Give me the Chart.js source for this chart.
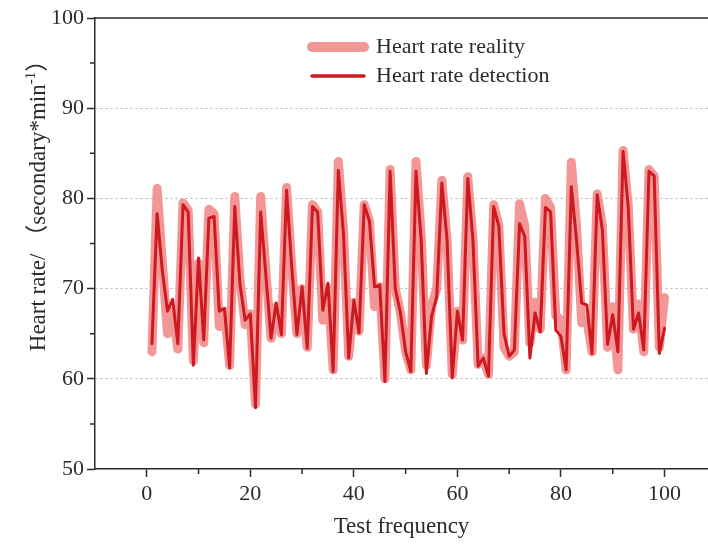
<!DOCTYPE html>
<html>
<head>
<meta charset="utf-8">
<script src="https://cdn.jsdelivr.net/npm/chart.js@4.4.1/dist/chart.umd.min.js"></script>
<style>
  html, body { margin: 0; padding: 0; background: #fff; }
  #chart { display: block; }
</style>
</head>
<body>
<canvas id="chart" width="708" height="548"></canvas>
<script>
// Test index on the x axis (1..100)
const frequency = Array.from({ length: 100 }, (_, i) => i + 1);

// Heart rate values
const realityValues = [
  63, 81.1, 73, 65, 67.5, 63.3, 79.5, 78.7, 62, 72.8,
  64, 78.8, 78.3, 65.8, 67.5, 61.5, 80.2, 71, 66, 67.2,
  57.2, 80.2, 72, 64.5, 68, 65, 81.2, 72.5, 65, 70,
  63.5, 79.3, 78.5, 66.5, 70, 61, 84.1, 76.5, 62.5, 68.5,
  65.3, 79.3, 77.5, 68, 70.2, 60, 83.2, 70, 67.3, 63,
  61, 84.1, 76, 61.5, 68, 70, 82, 75.4, 60.5, 67.5,
  64.3, 82.4, 75.6, 61.6, 62.3, 60.5, 79.3, 77, 63.5, 62.5,
  63, 79.4, 77, 64, 68.5, 65.5, 80, 79, 67, 66.5,
  61, 84, 77, 66.2, 66.5, 63, 80.5, 77, 63.5, 68,
  61, 85.3, 79.2, 65.5, 68.3, 63, 83.2, 82.5, 63.5, 69
];
const detectionValues = [
  63.9, 78.3, 72, 67.5, 68.8, 63.9, 79.3, 78.5, 61.5, 73.4,
  64.3, 77.8, 78, 67.5, 67.8, 61.2, 79.1, 70.5, 66.5, 67.2,
  56.8, 78.5, 71.5, 64.5, 68.4, 64.9, 80.9, 72.4, 64.9, 70.2,
  63.4, 79.1, 78.5, 67.6, 70.6, 60.8, 83.1, 76, 62.3, 68.7,
  65.1, 79.3, 77.5, 70.2, 70.4, 59.7, 83, 70, 67.3, 63,
  60.8, 83, 75.4, 60.6, 66.9, 69.1, 81.7, 75.4, 60.1, 67.5,
  64.3, 82.2, 75.4, 61.4, 62.3, 60.3, 79.1, 76.9, 65, 62.5,
  63.2, 77.2, 75.8, 62.3, 67.3, 65.2, 79, 78.5, 65.4, 64.7,
  61, 81.3, 75.4, 68.4, 68.2, 62.8, 80.4, 76.5, 63.8, 67.1,
  63, 85.2, 79, 65.5, 67.3, 63.2, 83, 82.5, 62.8, 65.6
];

const seriesNames = ['Heart rate reality', 'Heart rate detection'];
const xTicks = [0, 20, 40, 60, 80, 100];
const xMinorTicks = [10, 30, 50, 70, 90];
const yTicks = [50, 60, 70, 80, 90, 100];
const yMinorTicks = [55, 65, 75, 85, 95];

const SERIF = "'Liberation Serif', 'Times New Roman', 'Noto Sans CJK SC', serif";
const INK = '#2b2b2b';
const PINK = '#f39696';
const RED = '#cc1a20';

const toPoints = vals => vals.map((v, i) => ({ x: frequency[i], y: v }));

// top frame, minor ticks, y title and legend
const decorations = {
  id: 'decorations',
  afterDraw(chart) {
    const { ctx, chartArea: a, scales: { x, y } } = chart;
    ctx.save();
    ctx.strokeStyle = INK;
    ctx.lineWidth = 1.5;
    ctx.beginPath();
    ctx.moveTo(a.left - 0.75, a.top);
    ctx.lineTo(a.right, a.top);
    xMinorTicks.forEach(v => {
      const px = x.getPixelForValue(v);
      ctx.moveTo(px, a.bottom);
      ctx.lineTo(px, a.bottom + 5);
    });
    yMinorTicks.forEach(v => {
      const py = y.getPixelForValue(v);
      ctx.moveTo(a.left, py);
      ctx.lineTo(a.left - 5, py);
    });
    ctx.stroke();

    // y axis title with superscript
    ctx.fillStyle = INK;
    ctx.textBaseline = 'middle';
    ctx.translate(39, 200);
    ctx.rotate(-Math.PI / 2);
    const main = 'Heart rate/ （secondary*min';
    const sup = '-1';
    const tail = '）';
    ctx.font = '23px ' + SERIF;
    const w1 = ctx.measureText(main).width;
    const w3 = ctx.measureText(tail).width;
    ctx.font = '15px ' + SERIF;
    const w2 = ctx.measureText(sup).width;
    let cx = -(w1 + w2 + w3) / 2;
    ctx.font = '23px ' + SERIF;
    ctx.fillText(main, cx, 0);
    cx += w1;
    ctx.font = '15px ' + SERIF;
    ctx.fillText(sup, cx, -8);
    cx += w2;
    ctx.font = '23px ' + SERIF;
    ctx.fillText(tail, cx, 0);
    ctx.restore();

    // legend
    ctx.save();
    ctx.lineCap = 'round';
    ctx.textBaseline = 'middle';
    ctx.font = '22px ' + SERIF;
    ctx.fillStyle = INK;
    const rows = [47, 76];
    chart.data.datasets.forEach((ds, i) => {
      ctx.strokeStyle = ds.borderColor;
      ctx.lineWidth = ds.borderWidth + (i === 0 ? 1 : 0.5);
      ctx.beginPath();
      ctx.moveTo(312, rows[i]);
      ctx.lineTo(364, rows[i]);
      ctx.stroke();
      ctx.fillText(ds.label, 376, rows[i]);
    });
    ctx.restore();
  }
};

new Chart(document.getElementById('chart'), {
  type: 'line',
  data: {
    datasets: [
      {
        label: seriesNames[0],
        data: toPoints(realityValues),
        borderColor: PINK,
        borderWidth: 9,
        borderJoinStyle: 'round',
        borderCapStyle: 'round',
        pointRadius: 0,
        tension: 0,
        order: 2
      },
      {
        label: seriesNames[1],
        data: toPoints(detectionValues),
        borderColor: RED,
        borderWidth: 3,
        borderJoinStyle: 'round',
        borderCapStyle: 'round',
        pointRadius: 0,
        tension: 0,
        order: 1
      }
    ]
  },
  options: {
    responsive: false,
    animation: false,
    devicePixelRatio: 1,
    layout: { padding: { top: 18, left: 0, right: 0, bottom: 0 } },
    plugins: { legend: { display: false }, tooltip: { enabled: false } },
    scales: {
      x: {
        type: 'linear',
        min: -10,
        max: 108.4,
        afterBuildTicks: s => { s.ticks = xTicks.map(v => ({ value: v })); },
        afterFit: s => { s.height = 79; },
        ticks: {
          color: INK,
          font: { family: SERIF, size: 22 },
          padding: 4,
          maxRotation: 0,
          autoSkip: false
        },
        grid: { drawOnChartArea: false, drawTicks: true, tickLength: 8, tickColor: INK, tickWidth: 1.5 },
        border: { color: INK, width: 1.5 },
        title: {
          display: true,
          text: 'Test frequency',
          color: INK,
          font: { family: SERIF, size: 23 },
          padding: { top: 2, bottom: 7 }
        }
      },
      y: {
        min: 50,
        max: 100,
        afterBuildTicks: s => { s.ticks = yTicks.map(v => ({ value: v })); },
        afterFit: s => { s.width = 95; },
        ticks: {
          color: INK,
          font: { family: SERIF, size: 22 },
          padding: 3
        },
        grid: {
          color: c => (c.tick && (c.tick.value === 50 || c.tick.value === 100)) ? 'rgba(0,0,0,0)' : '#b4b4b4',
          lineWidth: 1,
          drawTicks: true,
          tickLength: 8,
          tickColor: INK,
          tickWidth: 1.5
        },
        border: { color: INK, width: 1.5, dash: [2, 3] }
      }
    }
  },
  plugins: [decorations]
});
</script>
</body>
</html>
